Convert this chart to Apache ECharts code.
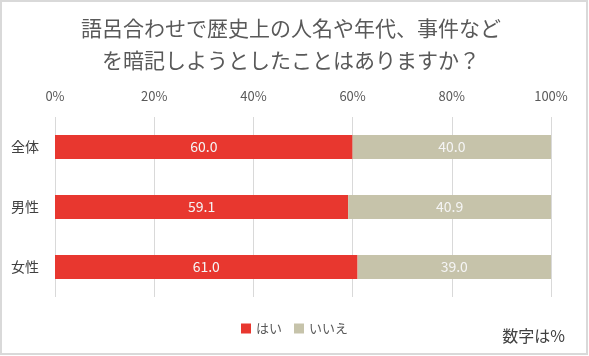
<!DOCTYPE html>
<html><head><meta charset="utf-8">
<script src="https://cdn.jsdelivr.net/npm/echarts@6/dist/echarts.min.js"></script>
<style>html,body{margin:0;padding:0;background:#fff}#c{width:589px;height:356px}</style>
</head><body><div id="c"></div>
<script>
const categories = ['全体', '男性', '女性'];
const yesValues = [60.0, 59.1, 61.0];
const noValues = [40.0, 40.9, 39.0];
const seriesNames = ['はい', 'いいえ'];
const tickValues = [0, 20, 40, 60, 80, 100];
const titleText = '語呂合わせで歴史上の人名や年代、事件など\nを暗記しようとしたことはありますか？';

const font = '"Noto Sans CJK JP", "Noto Sans", sans-serif';
const chart = echarts.init(document.getElementById('c'));
chart.setOption({
  animation: false,
  textStyle: { fontFamily: font },
  legend: {
    data: seriesNames, bottom: 16, left: 'center', itemWidth: 10, itemHeight: 10, itemGap: 12,
    icon: 'rect', textStyle: { fontSize: 13, color: '#595959', fontFamily: font }
  },
  graphic: [
    { type: 'rect', shape: { x: 1, y: 1, width: 586, height: 353 }, style: { fill: 'none', stroke: '#d9d9d9', lineWidth: 2 } },
    { type: 'text', x: 291, y: 12, style: { text: titleText, align: 'center', verticalAlign: 'top', fontSize: 21, lineHeight: 32, fill: '#595959', fontFamily: font } },
    { type: 'text', right: 24, bottom: 12, style: { text: '数字は%', fontSize: 16, fill: '#404040', fontFamily: font } }
  ],
  grid: { left: 55, right: 38, top: 117, bottom: 59 },
  xAxis: {
    type: 'value', position: 'top', min: 0, max: 100, interval: 20,
    axisLabel: { formatter: v => tickValues.includes(v) ? v + '%' : '', fontSize: 13, color: '#595959', margin: 14 },
    axisLine: { show: false }, axisTick: { show: false },
    splitLine: { lineStyle: { color: '#d9d9d9', width: 1 } }
  },
  yAxis: {
    type: 'category', data: categories, inverse: true,
    axisLine: { show: false }, axisTick: { show: false },
    axisLabel: { fontSize: 14, color: '#404040', margin: 16 }
  },
  series: [
    { name: seriesNames[0], type: 'bar', stack: 's', data: yesValues, barCategoryGap: '60%',
      itemStyle: { color: '#E8372F' },
      label: { show: true, position: 'inside', formatter: p => p.value.toFixed(1), color: '#f5f5f5', fontSize: 14 } },
    { name: seriesNames[1], type: 'bar', stack: 's', data: noValues, barCategoryGap: '60%',
      itemStyle: { color: '#C6C3AA' },
      label: { show: true, position: 'inside', formatter: p => p.value.toFixed(1), color: '#f5f5f5', fontSize: 14 } }
  ]
});
</script></body></html>
